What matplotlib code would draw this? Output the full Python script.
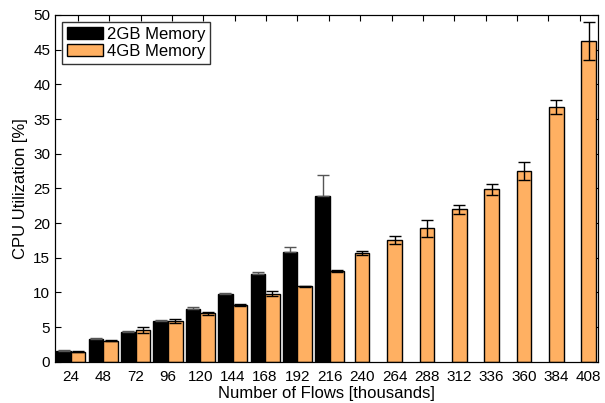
import numpy as np
import matplotlib.pyplot as plt

plt.rcParams['font.family'] = ['Liberation Sans', 'DejaVu Sans']

flows = [24, 48, 72, 96, 120, 144, 168, 192, 216, 240, 264, 288, 312, 336, 360, 384, 408]
mem2 = [1.6, 3.3, 4.3, 5.95, 7.6, 9.8, 12.6, 15.85, 23.9]
mem2_err = [0.1, 0.1, 0.1, 0.15, 0.3, 0.1, 0.3, 0.75, 3.1]
mem4 = [1.45, 3.07, 4.56, 5.9, 7.0, 8.2, 9.8, 10.9, 13.07,
        15.7, 17.6, 19.26, 22.0, 24.9, 27.47, 36.74, 46.25]
mem4_err = [0.05, 0.05, 0.45, 0.35, 0.2, 0.1, 0.35, 0.1, 0.1,
            0.35, 0.6, 1.25, 0.65, 0.8, 1.3, 1.0, 2.8]

orange = '#FFB062'
w = 0.45
x = np.arange(len(flows))
n2 = len(mem2)

fig = plt.figure(figsize=(6.05, 4.03), dpi=100)
ax = fig.add_axes([0.091, 0.102, 0.897, 0.861])

# paired bars where both memory sizes were measured, single bars after that
x4 = np.where(x < n2, x + w / 2, x)
ax.bar(x[:n2] - w / 2, mem2, w, color='black', edgecolor='black', lw=1,
       label='2GB Memory', zorder=2)
ax.bar(x4, mem4, w, color=orange, edgecolor='black', lw=1,
       label='4GB Memory', zorder=2)
# lower half of the black bars' error is hidden inside the bar
ax.errorbar(x[:n2] - w / 2, mem2, yerr=[np.zeros(n2), mem2_err], fmt='none',
            ecolor='#555555', elinewidth=1, capsize=4, capthick=1, zorder=3)
ax.errorbar(x4, mem4, yerr=mem4_err, fmt='none', ecolor='black',
            elinewidth=1, capsize=4, capthick=1, zorder=3)

ax.set_xlim(-0.49, 16.28)
ax.set_ylim(0, 50)
ax.set_xticks(x)
ax.set_xticklabels([str(f) for f in flows], fontsize=11)
ax.set_yticks(range(0, 51, 5))
ax.tick_params(axis='y', labelsize=11, direction='in', right=True, length=4)
ax.tick_params(axis='x', length=0, pad=6)
ax.set_xlabel('Number of Flows [thousands]', fontsize=12, labelpad=1)
ax.set_ylabel('CPU Utilization [%]', fontsize=12)

top = ax.twiny()
top.set_xlim(ax.get_xlim())
top.set_xticks(np.linspace(0.22, 15.72, 17))
top.set_xticklabels([])
top.tick_params(axis='x', direction='in', length=4)

leg = ax.legend(loc='upper left', fontsize=12, frameon=True, fancybox=False,
                borderpad=0.3, handlelength=2.2, handletextpad=0.2,
                labelspacing=0.15, borderaxespad=0.4)
leg.get_frame().set_edgecolor('black')
leg.get_frame().set_linewidth(1)

plt.savefig('out.png')
